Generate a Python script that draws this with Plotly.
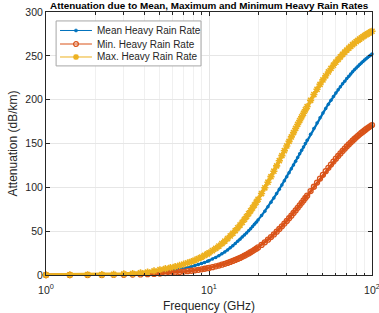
import numpy as np
import plotly.graph_objects as go

# Frequency samples (GHz)
freq = np.round(np.concatenate([
    np.arange(1.0, 9.81, 0.4),
    np.arange(10.0, 19.51, 0.5),
    np.arange(20.0, 39.1, 1.0),
    np.arange(40.0, 100.1, 2.0),
]), 2).tolist()

mean_rate = [
    0.05, 0.1, 0.15, 0.3, 0.45, 0.7, 1.1, 1.6, 2.2, 2.9, 3.7, 4.36, 5.09, 5.88, 6.71, 7.62, 8.58, 9.61, 10.70, 11.86, 13.08, 14.36, 15.70,
    16.39, 18.2, 20.09, 22.09, 24.18, 26.35, 28.62, 30.98, 33.43, 35.98, 38.59, 40.88, 43.22, 45.59, 47.97, 50.39, 52.84, 55.30, 57.77, 60.25,
    62.75, 67.78, 72.83, 77.87, 82.91, 87.90, 92.88, 97.78, 102.63, 107.38, 112.05, 116.67, 121.15, 125.57, 129.89, 134.11, 138.20, 142.20, 146.09, 149.89,
    153.57, 160.58, 167.25, 173.49, 179.32, 184.84, 189.99, 194.82, 199.34, 203.59, 207.57, 211.30, 214.80, 218.07, 221.15, 224.06,
    226.77, 229.32, 231.75, 234.01, 236.14, 238.15, 240.06, 241.85, 243.55, 245.14, 246.67, 248.11, 249.47, 250.75, 251.99,
]

min_rate = [
    0.02, 0.05, 0.08, 0.12, 0.2, 0.3, 0.45, 0.65, 0.9, 1.2, 1.6, 2.23, 2.59, 2.99, 3.41, 3.86, 4.33, 4.84, 5.37, 5.93, 6.52, 7.14, 7.78,
    8.11, 8.96, 9.86, 10.79, 11.76, 12.76, 13.81, 14.89, 16.00, 17.15, 18.32, 19.52, 20.75, 22.01, 23.30, 24.61, 25.95, 27.30, 28.68, 30.07,
    31.49, 34.36, 37.29, 40.27, 43.29, 46.33, 49.41, 52.48, 55.56, 58.62, 61.67, 64.72, 67.72, 70.71, 73.67, 76.59, 79.46, 82.29, 85.08, 87.82,
    90.50, 95.68, 100.69, 105.45, 109.97, 114.30, 118.38, 122.26, 125.94, 129.40, 132.71, 135.80, 138.73, 141.49, 144.11, 146.58,
    148.91, 151.10, 153.20, 155.16, 157.02, 158.78, 160.45, 162.04, 163.52, 164.92, 166.28, 167.55, 168.76, 169.91, 171.0,
]

max_rate = [
    0.1, 0.2, 0.3, 0.5, 0.8, 1.2, 1.7, 2.5, 3.4, 4.6, 6.0, 7.19, 8.34, 9.58, 10.91, 12.32, 13.79, 15.35, 16.99, 18.70, 20.48, 22.32, 24.23,
    25.23, 27.74, 30.36, 33.05, 35.82, 38.66, 41.58, 44.56, 47.60, 50.69, 53.79, 56.96, 60.16, 63.40, 66.65, 69.93, 73.19, 76.51, 79.81, 83.06,
    86.38, 92.94, 99.44, 105.86, 112.19, 118.39, 124.48, 130.38, 136.15, 141.74, 147.16, 152.44, 157.50, 162.43, 167.18, 171.75, 176.14, 180.39, 184.47, 188.39,
    192.17, 199.24, 205.82, 211.85, 217.39, 222.54, 227.24, 231.61, 235.63, 239.33, 242.78, 245.94, 248.90, 251.61, 254.15, 256.52,
    258.71, 260.76, 262.65, 264.43, 266.10, 267.67, 269.11, 270.49, 271.77, 272.98, 274.10, 275.18, 276.19, 277.14, 278.04,
]

series_names = ["Mean Heavy Rain Rate", "Min. Heavy Rain Rate", "Max. Heavy Rain Rate"]
series_colors = ["#0072BD", "#D95319", "#EDB120"]
x_tickvals = [1, 10, 100]
x_ticktext = ["10<sup>0</sup>", "10<sup>1</sup>", "10<sup>2</sup>"]
y_tickvals = [0, 50, 100, 150, 200, 250, 300]
title_text = "Attenuation due to Mean, Maximum and Minimum Heavy Rain Rates"

FONT = "Liberation Sans, Arial, sans-serif"
TXT = "#262626"
fig = go.Figure()

fig.add_trace(go.Scatter(
    x=freq, y=mean_rate, name=series_names[0], mode="lines+markers",
    line=dict(color=series_colors[0], width=2.2),
    marker=dict(symbol="circle", size=3.5, color=series_colors[0]),
    cliponaxis=False, showlegend=False,
))
fig.add_trace(go.Scatter(
    x=freq, y=min_rate, name=series_names[1], mode="lines+markers",
    line=dict(color=series_colors[1], width=3),
    marker=dict(symbol="circle-open", size=5, color=series_colors[1], line=dict(width=1.3, color=series_colors[1])),
    cliponaxis=False, showlegend=False,
))
fig.add_trace(go.Scatter(
    x=freq, y=max_rate, name=series_names[2], mode="lines+markers",
    line=dict(color=series_colors[2], width=3.5),
    marker=dict(symbol="asterisk-open", size=6, color=series_colors[2], line=dict(width=1.6, color=series_colors[2])),
    cliponaxis=False, showlegend=False,
))

# ---- MATLAB-style legend box (drawn as layout shapes/annotations) ----
shapes = [dict(type="rect", xref="paper", yref="paper", x0=0.031, x1=0.4755, y0=0.795, y1=0.966,
               fillcolor="white", line=dict(color="#A6A6A6", width=1), layer="above")]
annotations = []
row_y = [0.9297, 0.8783, 0.8289]
for i, (name, col, yy) in enumerate(zip(series_names, series_colors, row_y)):
    shapes.append(dict(type="line", xref="paper", yref="paper", x0=0.043, x1=0.141, y0=yy, y1=yy,
                       line=dict(color=col, width=1), layer="above"))
    if i == 0:
        shapes.append(dict(type="circle", xref="paper", yref="paper", xsizemode="pixel", ysizemode="pixel",
                           xanchor=0.092, yanchor=yy, x0=-1.6, x1=1.6, y0=-1.6, y1=1.6,
                           fillcolor=col, line=dict(color=col, width=0.5), layer="above"))
    elif i == 1:
        shapes.append(dict(type="circle", xref="paper", yref="paper", xsizemode="pixel", ysizemode="pixel",
                           xanchor=0.092, yanchor=yy, x0=-2.4, x1=2.4, y0=-2.4, y1=2.4,
                           fillcolor="rgba(0,0,0,0)", line=dict(color=col, width=1.2), layer="above"))
    else:
        shapes.append(dict(type="path", xref="paper", yref="paper", xsizemode="pixel", ysizemode="pixel",
                           xanchor=0.092, yanchor=yy,
                           path="M-3,0L3,0M0,-3L0,3M-2.2,-2.2L2.2,2.2M-2.2,2.2L2.2,-2.2",
                           line=dict(color=col, width=1.4), layer="above"))
    annotations.append(dict(text=name, xref="paper", yref="paper", x=0.150, y=yy, xanchor="left",
                            yanchor="middle", showarrow=False,
                            font=dict(family=FONT, size=10, color=TXT)))

annotations.append(dict(text="<b>" + title_text + "</b>", xref="paper", yref="paper", x=0.5, y=1,
                        xanchor="center", yanchor="bottom", yshift=-1, showarrow=False,
                        font=dict(family=FONT, size=9.9, color="black")))

fig.update_layout(
    width=379, height=313,
    margin=dict(l=46, r=7, t=12, b=38, autoexpand=False),
    paper_bgcolor="white", plot_bgcolor="white",
    font=dict(family=FONT, size=10, color=TXT),
    showlegend=False,
    shapes=shapes, annotations=annotations,
)

fig.update_xaxes(
    type="log", range=[0, 2], automargin=False,
    tickvals=x_tickvals, ticktext=x_ticktext,
    ticks="inside", ticklen=4, tickcolor=TXT,
    ticklabeloverflow="allow", ticklabelstandoff=5,
    showline=True, linecolor=TXT, linewidth=1, mirror="ticks",
    showgrid=True, gridcolor="#E6E6E6", gridwidth=1,
    minor=dict(ticks="inside", ticklen=2.5, tickcolor=TXT, showgrid=True, gridcolor="#F0F0F0",
               tickvals=[2, 3, 4, 5, 6, 7, 8, 9, 20, 30, 40, 50, 60, 70, 80, 90]),
    zeroline=False,
    tickfont=dict(family=FONT, size=10.5, color=TXT),
    title=dict(text="Frequency (GHz)", font=dict(family=FONT, size=12, color=TXT), standoff=11),
)
fig.update_yaxes(
    range=[0, 300], automargin=False, tickvals=y_tickvals,
    ticks="inside", ticklen=4, tickcolor=TXT,
    showline=True, linecolor=TXT, linewidth=1, mirror="ticks",
    showgrid=True, gridcolor="#E6E6E6", gridwidth=1,
    zeroline=False,
    tickfont=dict(family=FONT, size=10.5, color=TXT),
    title=dict(text="Attenuation (dB/km)", font=dict(family=FONT, size=12, color=TXT), standoff=5),
)

fig.write_html("out.html", config={"displayModeBar": False},
               post_script="document.body.style.margin='0px';document.body.style.padding='0px';")
